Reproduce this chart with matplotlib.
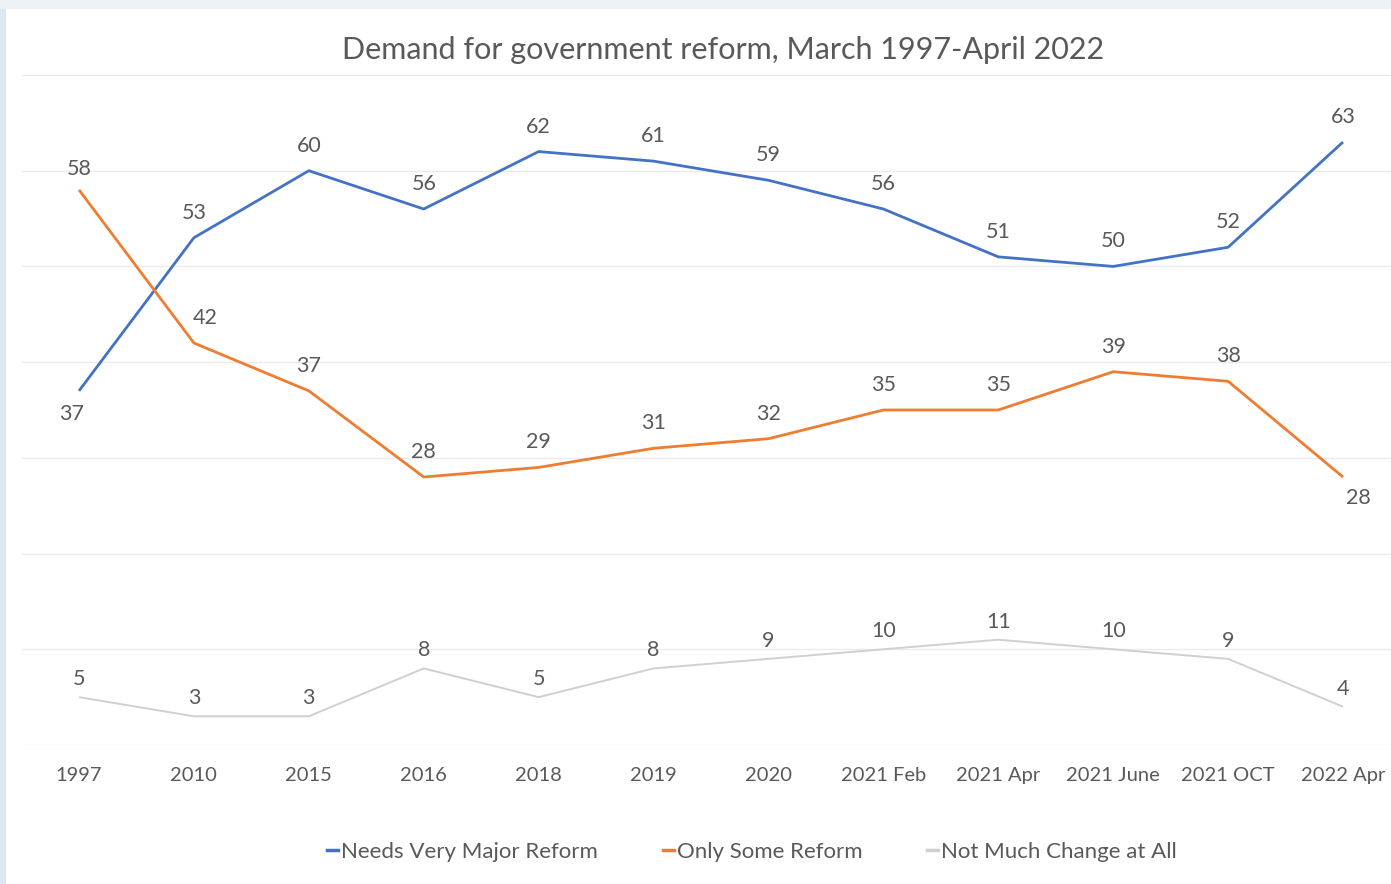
import numpy as np
import matplotlib
matplotlib.use("Agg")
import matplotlib.pyplot as plt
from matplotlib.lines import Line2D
from matplotlib.patches import Rectangle

# data
periods = ["1997", "2010", "2015", "2016", "2018", "2019", "2020",
           "2021 Feb", "2021 Apr", "2021 June", "2021 OCT", "2022 Apr"]
major_reform = [37, 53, 60, 56, 62, 61, 59, 56, 51, 50, 52, 63]
some_reform = [58, 42, 37, 28, 29, 31, 32, 35, 35, 39, 38, 28]
not_much = [5, 3, 3, 8, 5, 8, 9, 10, 11, 10, 9, 4]

series_names = ["Needs Very Major Reform", "Only Some Reform", "Not Much Change at All"]
colors = ["#4472C4", "#ED7D31", "#D0D0D0"]
text_color = "#595959"

plt.rcParams['font.family'] = ['Lato', 'DejaVu Sans']

W, H = 1391, 884
fig = plt.figure(figsize=(W / 100, H / 100), dpi=100)

# slide background bits around the chart
fig.patches.append(Rectangle((0, 0), 5 / W, 1, transform=fig.transFigure,
                             color="#DCE8EF", zorder=0))
fig.patches.append(Rectangle((0, 1 - 8 / H), 1, 8 / H, transform=fig.transFigure,
                             color="#EEF2F5", zorder=0))

# axes placed so the category centers land where they do in the picture
px_per_cat = (1343 - 79) / 11
left_px = 79 - 0.5 * px_per_cat
ax = fig.add_axes([left_px / W, (H - 745) / H, (W - left_px) / W, 670 / H])
ax.set_xlim(-0.5, (W - 79) / px_per_cat)
ax.set_ylim(0, 70)

x = np.arange(len(periods))
for vals, c, lw in zip([major_reform, some_reform, not_much], colors, [2.0, 2.0, 1.4]):
    ax.plot(x, vals, color=c, lw=lw, solid_capstyle="butt", zorder=3)

# data labels, mostly above the point; a couple moved by hand like the original
default_off = (0, 18)
special = {(0, 0): (-5, -17), (1, 11): (11, -15), (1, 1): (8, 18), (1, 0): (0, 15)}
for si, vals in enumerate([major_reform, some_reform, not_much]):
    for i, v in enumerate(vals):
        dx, dy = special.get((si, i), default_off)
        if si == 2:
            dx, dy = 0, 13
        ax.annotate(str(v), (i, v), xytext=(dx, dy), textcoords="offset points",
                    ha="center", va="center", fontsize=15.5, color=text_color)

ax.set_yticks(np.arange(0, 71, 10))
ax.yaxis.grid(True, color="#EBEBEB", lw=1)
ax.set_axisbelow(True)
ax.tick_params(axis="y", left=False, labelleft=False)
ax.set_xticks(x)
ax.set_xticklabels(periods, fontsize=14.5, color=text_color)
ax.tick_params(axis="x", length=0, pad=16)
for s in ax.spines.values():
    s.set_visible(False)

fig.text(723 / W, 1 - 50 / H, "Demand for government reform, March 1997-April 2022",
         ha="center", va="center", fontsize=22, color=text_color)

handles = [Line2D([], [], color=c, lw=2.5) for c in colors]
fig.legend(handles, series_names, loc="center", bbox_to_anchor=(752 / W, 1 - 852 / H),
           ncol=3, frameon=False, fontsize=16, labelcolor=text_color,
           handlelength=0.5, handletextpad=0.15, columnspacing=2.9)

fig.savefig("out.png", dpi=100, facecolor="white")
